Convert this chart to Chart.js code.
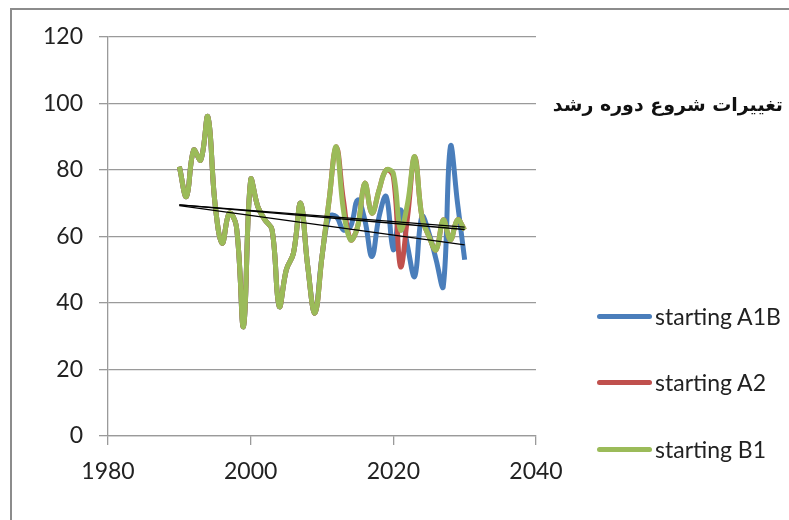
<!DOCTYPE html>
<html lang="fa">
<head>
  <meta charset="UTF-8">
  <title>تغییرات شروع دوره رشد</title>
  <script src="https://cdn.jsdelivr.net/npm/chart.js"></script>
  <style>
    body { margin: 0; background: #fff; }
    #wrap { position: relative; width: 789px; height: 520px; overflow: hidden; }
    #frame {
      position: absolute; left: 10px; top: 8px; width: 800px; height: 540px;
      border: 2px solid #8c8c8c;
    }
    #chart { position: absolute; left: 0; top: 0; }
    #title {
      position: absolute; right: 6px; top: 93px;
      direction: rtl; font: bold 19px "DejaVu Sans", sans-serif; color: #111;
      white-space: nowrap;
    }
    .item {
      position: absolute; left: 597px; height: 26px;
      display: flex; align-items: center;
      font: 23px Lato, sans-serif; color: #222; white-space: nowrap;
    }
    .item span.sw { display: inline-block; width: 55px; height: 5px; border-radius: 3px; margin-right: 3px; }
  </style>
</head>
<body>
<div id="wrap">
  <div id="frame"></div>
  <canvas id="chart" width="789" height="520"></canvas>
  <div id="title">تغییرات شروع دوره رشد</div>
  <div id="legend"></div>
</div>

<script>
// years 1990..2030
const years = [];
for (let y = 1990; y <= 2030; y++) years.push(y);

// observed part (1990-2010) is shared by all scenarios
const startA1B = [81, 72, 86, 83, 96, 70, 58, 67, 63, 33, 77, 69, 65, 62, 39, 50, 55, 70, 51, 37, 54,
                  66, 66, 62, 63, 71, 65, 54, 66, 72, 56, 68, 57, 48, 66, 61, 53, 45, 87, 70, 53];
const startA2  = [81, 72, 86, 83, 96, 70, 58, 67, 63, 33, 77, 69, 65, 62, 39, 50, 55, 70, 51, 37, 54,
                  71, 87, 71, 59, 63, 76, 67, 74, 80, 78, 51, 66, 84, 66, 60, 56, 65, 59, 65, 62];
const startB1  = [81, 72, 86, 83, 96, 70, 58, 67, 63, 33, 77, 69, 65, 62, 39, 50, 55, 70, 51, 37, 54,
                  71, 87, 68, 59, 63, 76, 67, 74, 80, 79, 62, 70, 84, 66, 60, 56, 65, 59, 65, 62];

// linear trend lines (end values)
const trendYears = [1990, 2030];
const trendA1B = [69.3, 57.5];
const trendA2  = [69.5, 62.1];
const trendB1  = [69.5, 62.8];

const seriesNames  = ['starting A1B', 'starting A2', 'starting B1'];
const seriesColors = ['#4a7ebb', '#c0504d', '#9bbb59'];
const xTicks = [1980, 2000, 2020, 2040];
const yTicks = [0, 20, 40, 60, 80, 100, 120];

function pts(xs, ys) { return xs.map((x, i) => ({ x: x, y: ys[i] })); }

const seriesData = [startA1B, startA2, startB1];
const datasets = seriesData.map((d, i) => ({
  label: seriesNames[i],
  data: pts(years, d),
  borderColor: seriesColors[i],
  borderWidth: 5,
  showLine: true,
  tension: 0.4,
  pointRadius: 0,
  order: 3 - i
}));
[trendA1B, trendA2, trendB1].forEach((t, i) => {
  datasets.push({
    label: 'trend ' + seriesNames[i],
    data: pts(trendYears, t),
    borderColor: '#000',
    borderWidth: 1.3,
    showLine: true,
    pointRadius: 0,
    order: 0
  });
});

const tickFont = { family: 'Lato', size: 23 };

new Chart(document.getElementById('chart'), {
  type: 'scatter',
  data: { datasets: datasets },
  options: {
    responsive: false,
    animation: false,
    layout: { padding: { left: 0, top: 37, right: 253, bottom: 0 } },
    plugins: { legend: { display: false }, tooltip: { enabled: false } },
    scales: {
      x: {
        type: 'linear', min: 1980, max: 2040,
        afterBuildTicks: (s) => { s.ticks = xTicks.map(v => ({ value: v })); },
        afterFit: (s) => { s.height = 84; },
        grid: { drawOnChartArea: false, drawTicks: true, tickLength: 9, color: '#9a9a9a', lineWidth: 1.3 },
        border: { color: '#9a9a9a', width: 1.3 },
        ticks: { color: '#222', font: tickFont, padding: 13, maxRotation: 0,
                 callback: (v) => String(v) }
      },
      y: {
        type: 'linear', min: 0, max: 120,
        afterBuildTicks: (s) => { s.ticks = yTicks.map(v => ({ value: v })); },
        afterFit: (s) => { s.width = 108; },
        grid: { color: '#9a9a9a', lineWidth: 1.3, tickLength: 9 },
        border: { color: '#9a9a9a', width: 1.3 },
        ticks: { color: '#222', font: tickFont, padding: 16, callback: (v) => String(v) }
      }
    }
  }
});

// legend, spaced like the original
const legendTops = [303, 369, 436];
const legend = document.getElementById('legend');
seriesNames.forEach((name, i) => {
  const div = document.createElement('div');
  div.className = 'item';
  div.style.top = legendTops[i] + 'px';
  div.innerHTML = '<span class="sw" style="background:' + seriesColors[i] + '"></span>' + name;
  legend.appendChild(div);
});
</script>
</body>
</html>
